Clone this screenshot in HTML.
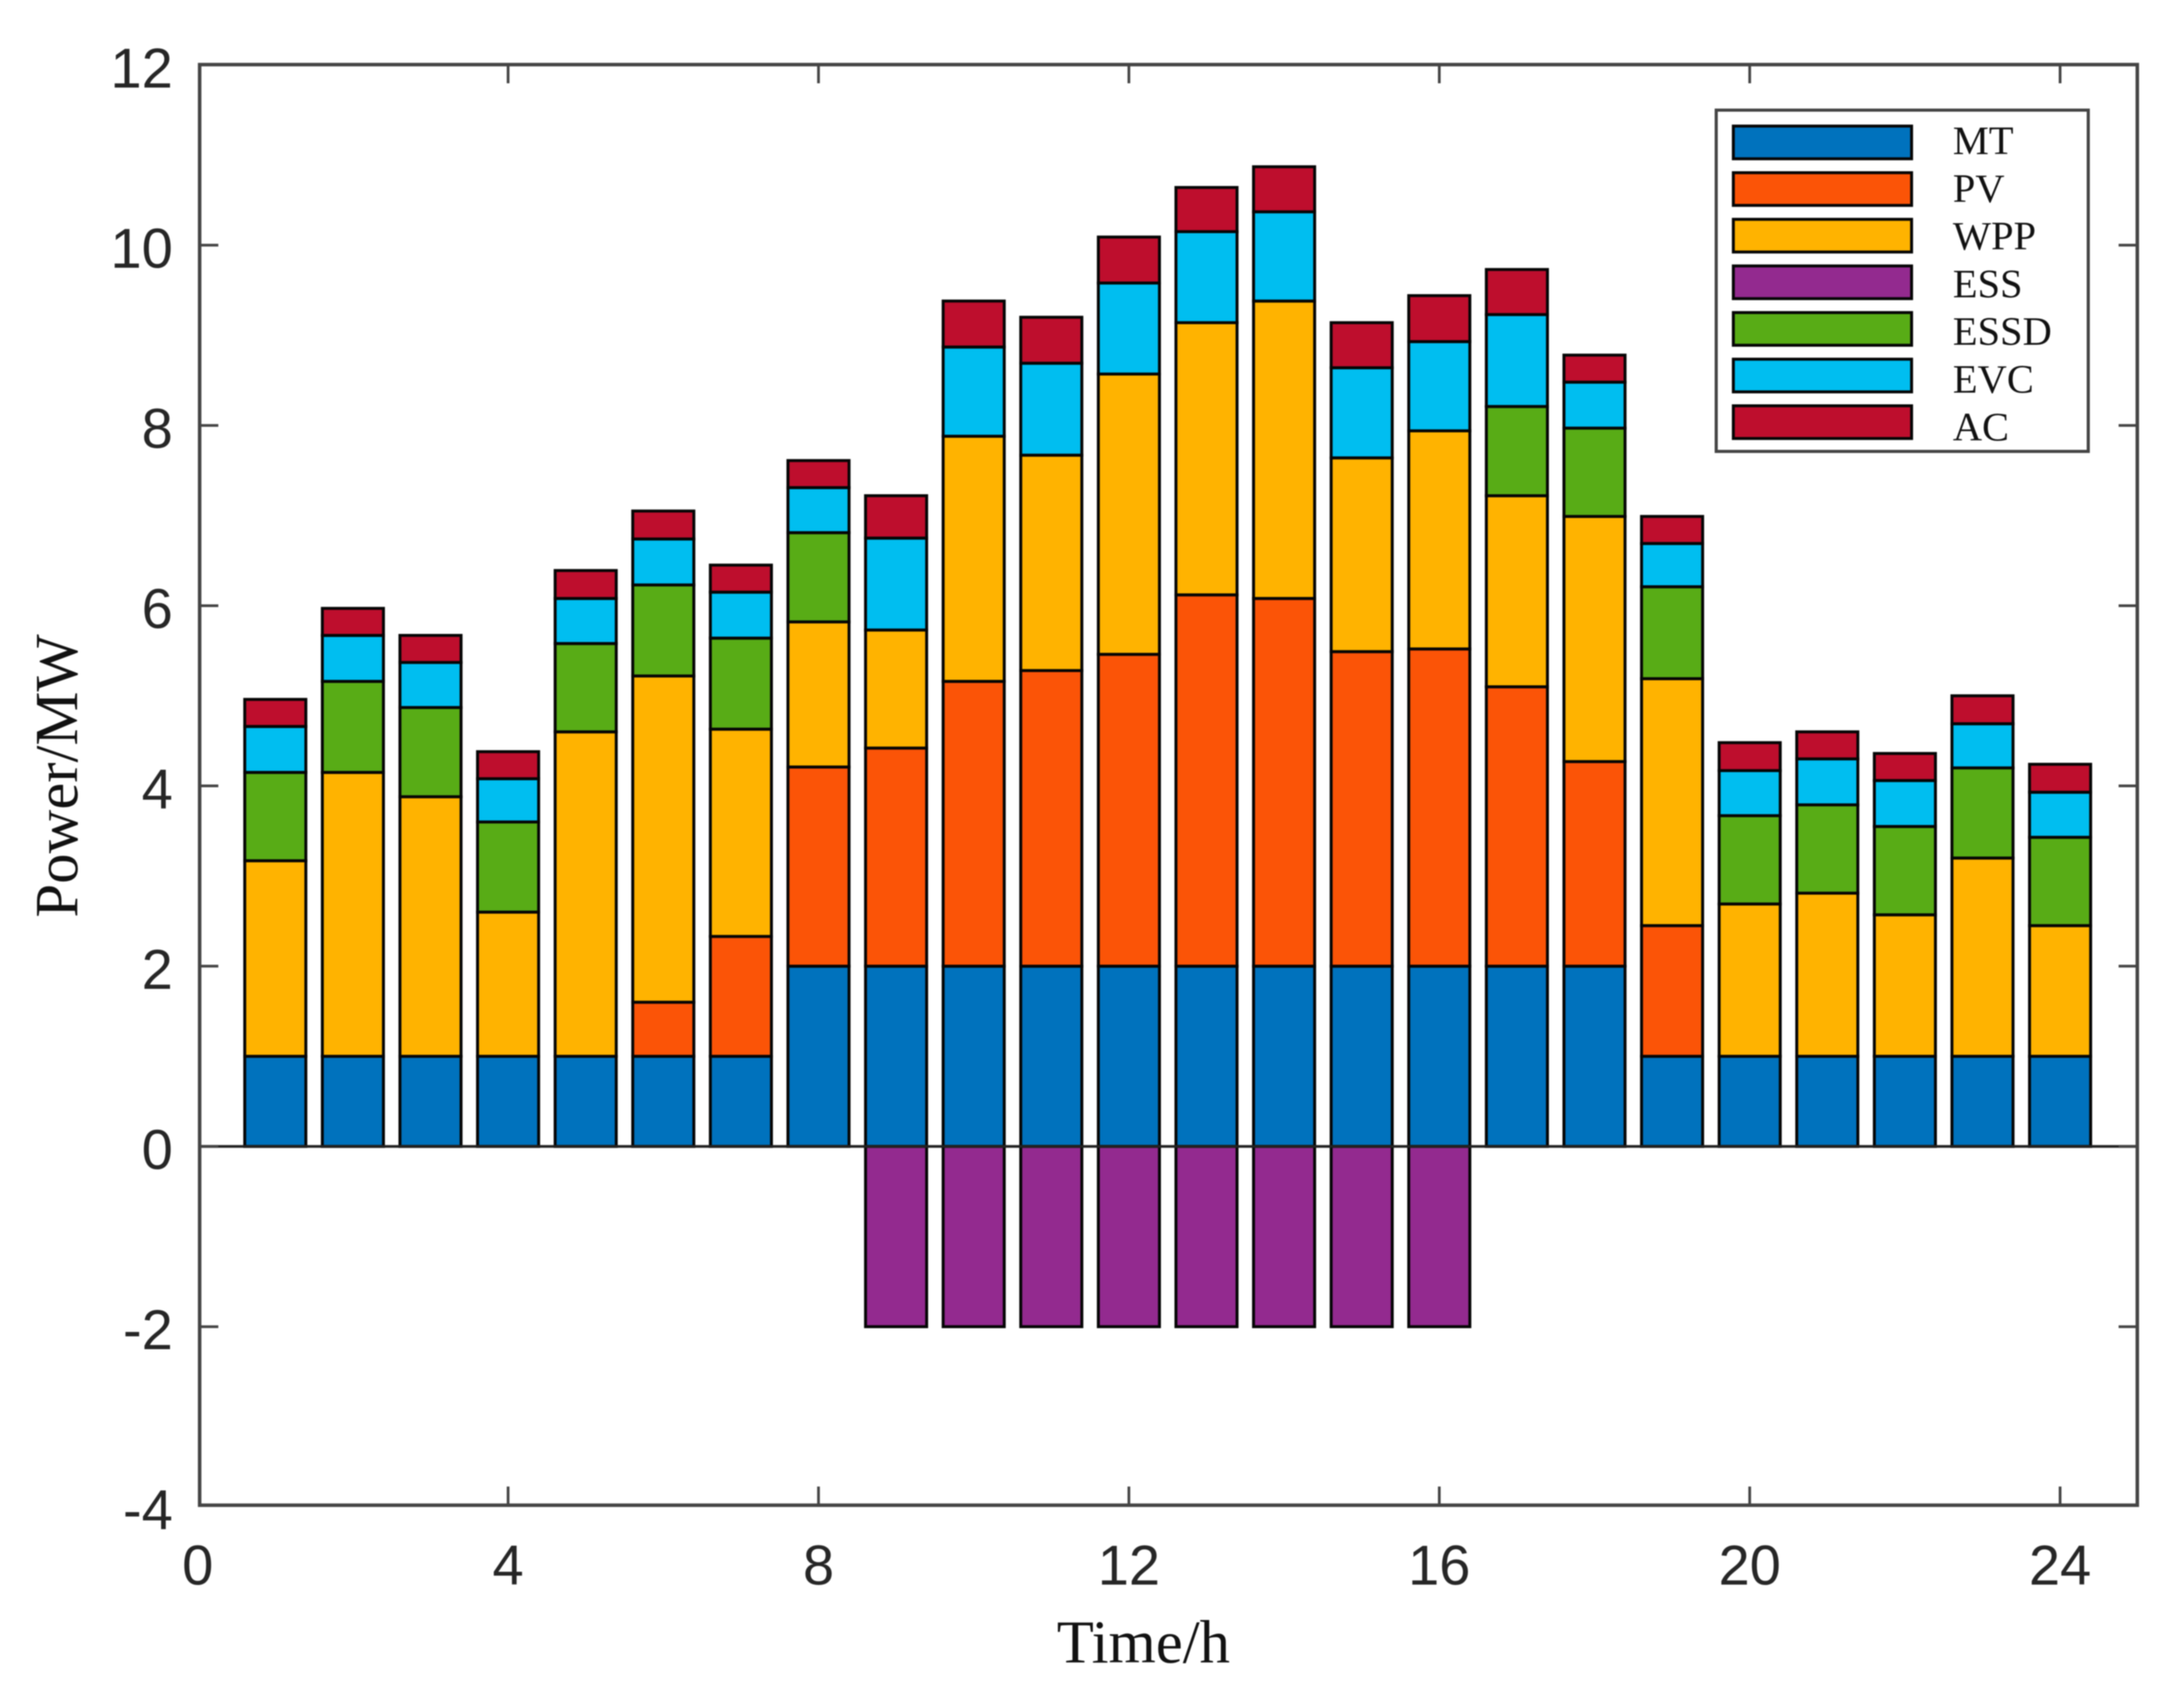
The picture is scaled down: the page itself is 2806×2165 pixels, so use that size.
<!DOCTYPE html>
<html lang="en">
<head>
<meta charset="utf-8">
<title>Power balance stacked bar chart</title>
<style>
  html, body { margin: 0; padding: 0; background: #fff; }
  #stage { display: block; width: 2806px; height: 2165px; background: #fff; filter: blur(0.7px); }
  .tick-text { font-family: "Liberation Sans", Arial, sans-serif; font-size: 72px; fill: #262626; }
  .axis-title { font-family: "Liberation Serif", "Times New Roman", serif; font-size: 78px; fill: #111; }
  .legend-text { font-family: "Liberation Serif", "Times New Roman", serif; font-size: 52px; fill: #111; }
</style>
</head>
<body>
<svg id="stage" xmlns="http://www.w3.org/2000/svg" width="2806" height="2165" viewBox="0 0 2806 2165">
  <g id="bars"></g>
  <g id="axes"></g>
  <text class="axis-title" x="1469" y="2136" text-anchor="middle">Time/h</text>
  <text class="axis-title" transform="translate(99,997) rotate(-90)" text-anchor="middle">Power/MW</text>
  <g id="legend"></g>
</svg>
<script>
const hours = [1,2,3,4,5,6,7,8,9,10,11,12,13,14,15,16,17,18,19,20,21,22,23,24];
const seriesNames = ["MT","PV","WPP","ESS","ESSD","EVC","AC"];
const seriesColors = ["#0072BD","#FB5407","#FFB300","#932A8F","#58AC16","#00BEF0","#BE0E2D"];
const mt = [1,1,1,1,1,1,1,2,2,2,2,2,2,2,2,2,2,2,1,1,1,1,1,1];
const pv = [0,0,0,0,0,0.6,1.33,2.21,2.42,3.16,3.28,3.46,4.12,4.08,3.49,3.52,3.1,2.27,1.45,0,0,0,0,0];
const wpp = [2.17,3.15,2.88,1.6,3.6,3.62,2.3,1.61,1.31,2.72,2.39,3.11,3.02,3.3,2.15,2.42,2.12,2.72,2.74,1.69,1.81,1.57,2.2,1.45];
const ess = [0,0,0,0,0,0,0,0,-2,-2,-2,-2,-2,-2,-2,-2,0,0,0,0,0,0,0,0];
const essd = [0.98,1.01,0.99,1,0.98,1.01,1.01,0.99,0,0,0,0,0,0,0,0,0.99,0.98,1.02,0.98,0.98,0.98,1,0.98];
const evc = [0.51,0.51,0.5,0.48,0.5,0.51,0.51,0.5,1.02,0.99,1.02,1.01,1.01,0.99,1,0.99,1.02,0.51,0.48,0.5,0.51,0.51,0.49,0.5];
const ac = [0.3,0.3,0.3,0.3,0.31,0.31,0.3,0.3,0.47,0.51,0.51,0.51,0.49,0.5,0.5,0.51,0.5,0.3,0.3,0.31,0.3,0.3,0.31,0.31];
const xTicks = [0,4,8,12,16,20,24];
const yTicks = [-4,-2,0,2,4,6,8,10,12];

const NS = "http://www.w3.org/2000/svg";
const frame = { left: 256.5, right: 2746, top: 83, bottom: 1934 };
const xScale = h => 254 + 99.7 * h;
const yScale = v => 1473 - 115.8 * v;
const barWidth = 78.5;

function make(tag, attrs, parent) {
  const el = document.createElementNS(NS, tag);
  for (const k in attrs) el.setAttribute(k, attrs[k]);
  parent.appendChild(el);
  return el;
}

const allSeries = [mt, pv, wpp, ess, essd, evc, ac];
const barsG = document.getElementById("bars");
hours.forEach((h, i) => {
  let pos = 0;
  let neg = 0;
  allSeries.forEach((values, s) => {
    const v = values[i];
    if (v === 0) return;
    const start = v > 0 ? pos : neg;
    const end = start + v;
    if (v > 0) pos = end; else neg = end;
    const yA = yScale(Math.max(start, end));
    const yB = yScale(Math.min(start, end));
    const r = make("rect", {
      x: xScale(h) - barWidth / 2,
      y: yA,
      width: barWidth,
      height: yB - yA,
      fill: seriesColors[s],
      stroke: "#050505",
      "stroke-width": 3.8
    }, barsG);
    
    
  });
});

const axesG = document.getElementById("axes");
const zeroLine = make("line", { x1: frame.left, x2: frame.right, y1: yScale(0), y2: yScale(0), stroke: "#222", "stroke-width": 3.5 }, axesG);



const frameRect = make("rect", { x: frame.left, y: frame.top, width: frame.right - frame.left, height: frame.bottom - frame.top, fill: "none", stroke: "#444", "stroke-width": 4.5 }, axesG);



const tickLen = 24;
xTicks.forEach(t => {
  const x = xScale(t);
  if (t !== 0) {
    const tb = make("line", { x1: x, x2: x, y1: frame.bottom, y2: frame.bottom - tickLen, stroke: "#444", "stroke-width": 3.5 }, axesG);
    
    
    const tt = make("line", { x1: x, x2: x, y1: frame.top, y2: frame.top + tickLen, stroke: "#444", "stroke-width": 3.5 }, axesG);
    
    
  }
  const lbl = make("text", { x: x, y: 2036, "text-anchor": "middle", class: "tick-text" }, axesG);
  lbl.textContent = String(t);
  
  
});
yTicks.forEach(t => {
  const y = yScale(t);
  if (t !== 12 && t !== -4) {
    const tl = make("line", { x1: frame.left, x2: frame.left + tickLen, y1: y, y2: y, stroke: "#444", "stroke-width": 3.5 }, axesG);
    
    
    const tr = make("line", { x1: frame.right, x2: frame.right - tickLen, y1: y, y2: y, stroke: "#444", "stroke-width": 3.5 }, axesG);
    
    
  }
  const lbl = make("text", { x: 222, y: y + 29, "text-anchor": "end", class: "tick-text" }, axesG);
  lbl.textContent = String(t);
  
  
});

const legendG = document.getElementById("legend");
const legendBox = make("rect", { x: 2205, y: 141.5, width: 478, height: 438.5, fill: "#fff", stroke: "#444", "stroke-width": 4 }, legendG);


seriesNames.forEach((name, s) => {
  const top = 162 + s * 59.9;
  const sw = make("rect", { x: 2227, y: top, width: 229, height: 42, fill: seriesColors[s], stroke: "#050505", "stroke-width": 3.8 }, legendG);
  
  
  const tx = make("text", { x: 2509, y: 198 + s * 61.3, class: "legend-text" }, legendG);
  tx.textContent = name;
  
  
});
</script>
</body>
</html>
